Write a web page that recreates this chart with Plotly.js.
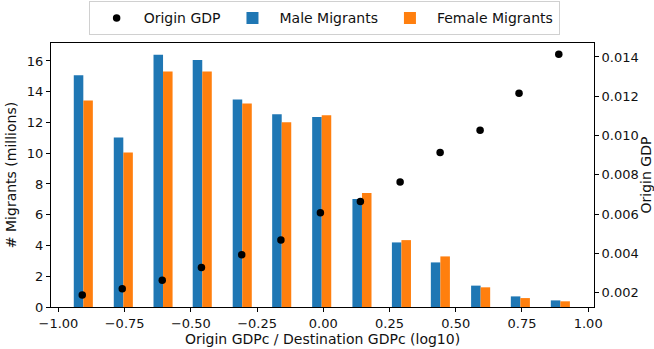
<!DOCTYPE html>
<html>
<head>
<meta charset="utf-8">
<script src="https://cdn.plot.ly/plotly-3.0.1.min.js"></script>
<style>
  html, body { margin: 0; padding: 0; background: #fff; }
  #chart { width: 654px; height: 349px; }
</style>
</head>
<body>
<div id="chart"></div>
<script>
// Bin centres of log10(origin GDPc / destination GDPc)
const binCenters = [-0.906, -0.755, -0.605, -0.457, -0.306, -0.157, -0.006, 0.146, 0.295, 0.442, 0.594, 0.744, 0.895];
// Migrant stocks per bin (millions)
const maleMigrants = [15.07, 11.02, 16.40, 16.07, 13.49, 12.54, 12.36, 7.02, 4.20, 2.90, 1.39, 0.69, 0.43];
const femaleMigrants = [13.43, 10.05, 15.31, 15.31, 13.23, 12.02, 12.47, 7.41, 4.35, 3.29, 1.28, 0.58, 0.37];
// Mean ratio and origin GDP within each bin
const gdpX = [-0.910, -0.759, -0.608, -0.460, -0.308, -0.160, -0.011, 0.140, 0.290, 0.441, 0.592, 0.739, 0.889];
const originGDP = [0.00188, 0.00220, 0.00264, 0.00329, 0.00393, 0.00468, 0.00607, 0.00664, 0.00764, 0.00914, 0.01027, 0.01215, 0.01414];

const barWidth = 0.036;
const font = 'DejaVu Sans, sans-serif';
const ink = '#111111';

const traces = [
  {
    type: 'scatter', mode: 'markers', name: 'Origin GDP',
    x: gdpX, y: originGDP, yaxis: 'y2',
    marker: { color: '#000000', size: 7.5 }
  },
  {
    type: 'bar', name: 'Male Migrants',
    x: binCenters, y: maleMigrants,
    width: barWidth, offset: -barWidth,
    marker: { color: '#1f77b4', line: { width: 0 } }
  },
  {
    type: 'bar', name: 'Female Migrants',
    x: binCenters, y: femaleMigrants,
    width: barWidth, offset: 0,
    marker: { color: '#ff7f0e', line: { width: 0 } }
  }
];

const tickFont = { family: font, size: 13, color: ink };
const titleFont = { family: font, size: 14, color: ink };

const layout = {
  width: 654, height: 349,
  margin: { l: 51, r: 60, t: 43, b: 42, autoexpand: false },
  paper_bgcolor: '#ffffff', plot_bgcolor: '#ffffff',
  font: { family: font, size: 13, color: ink },
  barmode: 'overlay',
  showlegend: true,
  legend: {
    orientation: 'h', x: 0.503, xanchor: 'center', y: 1.158, yanchor: 'top',
    bordercolor: '#d0d0d0', borderwidth: 1, bgcolor: '#ffffff',
    font: { family: font, size: 14, color: ink },
    itemwidth: 44, traceorder: 'normal'
  },
  xaxis: {
    range: [-1.028, 1.022],
    tickmode: 'array',
    tickvals: [-1, -0.75, -0.5, -0.25, 0, 0.25, 0.5, 0.75, 1],
    tickformat: '.2f', tickfont: tickFont,
    ticks: 'outside', ticklen: 4, tickcolor: '#000',
    showline: true, linecolor: '#000', linewidth: 1, mirror: true,
    showgrid: false, zeroline: false,
    title: { text: 'Origin GDPc / Destination GDPc (log10)', font: titleFont, standoff: 3 }
  },
  yaxis: {
    range: [0, 17.17],
    tickmode: 'array', tickvals: [0, 2, 4, 6, 8, 10, 12, 14, 16],
    tickfont: tickFont,
    ticks: 'outside', ticklen: 4, tickcolor: '#000',
    showline: true, linecolor: '#000', linewidth: 1, mirror: true,
    showgrid: false, zeroline: false,
    title: { text: '# Migrants (millions)', font: titleFont, standoff: 6 }
  },
  yaxis2: {
    overlaying: 'y', side: 'right',
    range: [0.001273, 0.014712],
    tickmode: 'array', tickvals: [0.002, 0.004, 0.006, 0.008, 0.010, 0.012, 0.014],
    tickformat: '.3f', tickfont: tickFont,
    ticks: 'outside', ticklen: 4, tickcolor: '#000',
    showline: true, linecolor: '#000', linewidth: 1,
    showgrid: false, zeroline: false,
    title: { text: 'Origin GDP', font: titleFont, standoff: 4 }
  }
};

Plotly.newPlot('chart', traces, layout, { displayModeBar: false, staticPlot: true });
</script>
</body>
</html>
